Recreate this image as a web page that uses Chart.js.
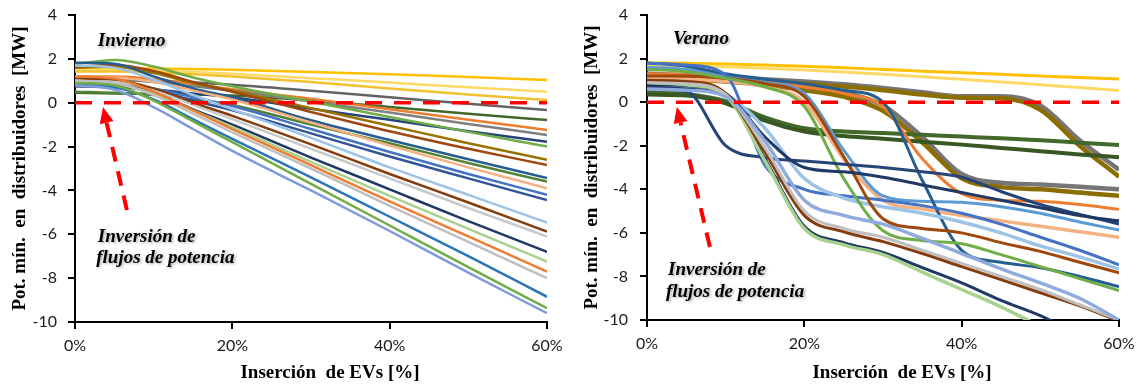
<!DOCTYPE html>
<html><head><meta charset="utf-8">
<script src="https://cdn.jsdelivr.net/npm/chart.js@4.4.1/dist/chart.umd.min.js"></script>
<style>
html,body{margin:0;padding:0;background:#fff;}
#wrap{position:relative;width:1142px;height:387px;overflow:hidden;}
.c{position:absolute;top:0;width:571px;height:387px;}
</style></head><body>
<div id="wrap">
<div class="c" style="left:0"><canvas id="cL" width="571" height="387"></canvas></div>
<div class="c" style="left:571px"><canvas id="cR" width="571" height="387"></canvas></div>
</div>
<script>
// ---------- DATA ----------
const xTickValues = [0, 20, 40, 60];           // % EV insertion
const yTickValues = [4, 2, 0, -2, -4, -6, -8, -10]; // MW
const zeroX = [0, 60];
const zeroY = [0, 0];

// Invierno (winter)
const xInv = [0, 5, 10, 15, 20, 30, 40, 50, 60];
const inv01 = [1.55, 1.57, 1.56, 1.54, 1.50, 1.40, 1.30, 1.17, 1.04];
const inv02 = [1.50, 1.50, 1.47, 1.40, 1.32, 1.12, 0.92, 0.70, 0.50];
const inv03 = [1.42, 1.42, 1.38, 1.30, 1.20, 0.95, 0.65, 0.38, 0.12];
const inv04 = [1.00, 1.02, 1.00, 0.92, 0.82, 0.55, 0.25, -0.05, -0.33];
const inv05 = [0.45, 0.42, 0.40, 0.38, 0.33, 0.10, -0.20, -0.50, -0.79];
const inv06 = [1.20, 1.20, 1.08, 0.85, 0.62, 0.18, -0.30, -0.78, -1.24];
const inv07 = [1.05, 1.05, 0.95, 0.75, 0.55, 0.05, -0.45, -0.97, -1.47];
const inv08 = [0.75, 0.70, 0.60, 0.42, 0.25, -0.28, -0.78, -1.30, -1.78];
const inv09 = [1.75, 1.95, 1.65, 1.15, 0.75, 0.05, -0.65, -1.33, -2.00];
const inv10 = [1.60, 1.65, 1.35, 0.90, 0.55, -0.25, -1.05, -1.85, -2.60];
const inv11 = [1.65, 1.72, 1.45, 0.95, 0.50, -0.42, -1.30, -2.10, -2.84];
const inv12 = [1.82, 1.78, 1.20, 0.65, 0.25, -0.80, -1.70, -2.58, -3.43];
const inv13 = [0.50, 0.45, 0.35, 0.15, -0.10, -1.00, -1.85, -2.75, -3.60];
const inv14 = [1.20, 1.15, 0.95, 0.55, 0.15, -0.90, -1.95, -2.95, -3.90];
const inv15 = [0.90, 0.85, 0.65, 0.25, -0.15, -1.20, -2.25, -3.25, -4.20];
const inv16 = [0.85, 0.80, 0.55, 0.10, -0.35, -1.40, -2.45, -3.45, -4.44];
const inv17 = [1.70, 1.60, 1.05, 0.35, -0.30, -1.60, -2.95, -4.20, -5.47];
const inv18 = [1.10, 1.05, 0.65, 0.00, -0.60, -1.90, -3.25, -4.55, -5.88];
const inv19 = [1.00, 0.95, 0.55, -0.10, -0.75, -2.10, -3.45, -4.80, -6.10];
const inv20 = [0.90, 0.85, 0.45, -0.30, -1.00, -2.50, -3.95, -5.40, -6.80];
const inv21 = [1.00, 0.90, 0.40, -0.35, -1.10, -2.70, -4.25, -5.75, -7.25];
const inv22 = [1.20, 1.10, 0.50, -0.35, -1.20, -2.85, -4.50, -6.10, -7.70];
const inv23 = [1.00, 0.90, 0.35, -0.50, -1.35, -3.00, -4.70, -6.35, -8.00];
const inv24 = [0.80, 0.70, 0.15, -0.75, -1.65, -3.40, -5.20, -7.00, -8.85];
const inv25 = [0.90, 0.80, 0.10, -0.85, -1.80, -3.70, -5.60, -7.50, -9.37];
const inv26 = [0.80, 0.60, -0.20, -1.20, -2.20, -4.00, -5.85, -7.75, -9.60];

// Verano (summer)
const xVer = [0, 5, 10, 15, 20, 25, 30, 35, 40, 45, 50, 55, 60];
const ver01 = [1.80, 1.78, 1.75, 1.70, 1.65, 1.58, 1.50, 1.42, 1.35, 1.28, 1.20, 1.13, 1.06];
const ver02 = [1.70, 1.68, 1.62, 1.55, 1.47, 1.38, 1.28, 1.17, 1.05, 0.93, 0.80, 0.67, 0.53];
const ver03 = [1.30, 1.25, 1.15, 1.05, 0.95, 0.82, 0.65, 0.45, 0.27, 0.27, -0.15, -1.75, -3.10];
const ver04 = [1.20, 1.15, 1.05, 0.95, 0.85, 0.72, 0.55, 0.35, 0.20, 0.18, -0.35, -2.00, -3.42];
const ver05 = [1.20, 1.15, 1.10, 0.95, 0.72, 0.45, -0.15, -1.60, -3.30, -3.70, -3.78, -3.88, -4.00];
const ver06 = [1.10, 1.05, 0.95, 0.80, 0.55, 0.25, -0.40, -1.85, -3.50, -3.90, -4.00, -4.15, -4.30];
const ver07 = [0.45, 0.38, 0.05, -0.70, -1.20, -1.35, -1.42, -1.50, -1.58, -1.66, -1.75, -1.86, -1.97];
const ver08 = [0.35, 0.30, -0.05, -0.85, -1.35, -1.55, -1.68, -1.82, -1.95, -2.10, -2.25, -2.40, -2.53];
const ver09 = [1.30, 1.25, 1.10, 0.95, 0.70, 0.40, -0.20, -2.60, -4.20, -4.50, -4.55, -4.70, -4.92];
const ver10 = [1.10, 1.05, 0.95, 0.70, 0.00, -2.60, -4.50, -4.90, -5.20, -5.45, -5.70, -5.95, -6.20];
const ver11 = [1.60, 1.50, 1.20, 0.90, 0.40, -2.20, -4.30, -4.55, -4.60, -4.80, -5.10, -5.50, -5.87];
const ver12 = [1.80, 1.65, 1.30, 1.05, 0.85, 0.55, 0.00, -3.60, -6.80, -7.35, -7.60, -8.00, -8.47];
const ver13 = [1.80, 1.70, 1.25, -2.90, -4.00, -4.30, -4.50, -4.75, -5.10, -5.60, -6.20, -6.80, -7.47];
const ver14 = [0.75, 0.65, 0.35, -1.20, -3.50, -4.40, -4.80, -5.10, -5.50, -6.00, -6.60, -7.10, -7.66];
const ver15 = [1.20, 1.20, 1.10, 0.85, 0.25, -2.50, -5.35, -5.80, -6.00, -6.45, -6.85, -7.35, -7.83];
const ver16 = [1.50, 1.40, 1.10, 0.70, -0.20, -3.50, -5.90, -6.35, -6.50, -7.00, -7.55, -8.10, -8.65];
const ver17 = [0.60, 0.50, -2.00, -2.55, -2.70, -2.85, -3.00, -3.20, -3.45, -4.10, -4.70, -5.15, -5.59];
const ver18 = [0.80, 0.75, 0.40, -1.60, -3.00, -3.20, -3.45, -3.80, -4.15, -4.50, -4.85, -5.20, -5.45];
const ver19 = [0.70, 0.60, 0.30, -2.60, -5.70, -6.45, -6.90, -7.60, -8.30, -9.10, -9.80, -10.70, -11.50];
const ver20 = [0.90, 0.80, 0.30, -2.70, -5.80, -6.55, -7.00, -7.80, -8.60, -9.40, -10.30, -11.20, -12.00];
const ver21 = [1.00, 0.95, 0.40, -2.30, -5.20, -5.95, -6.40, -6.95, -7.55, -8.15, -8.75, -9.35, -10.05];
const ver22 = [0.90, 0.85, 0.35, -2.10, -5.00, -5.80, -6.20, -6.80, -7.40, -8.00, -8.60, -9.30, -10.00];
const ver23 = [0.60, 0.55, 0.25, -1.80, -4.50, -5.20, -5.60, -6.25, -6.95, -7.65, -8.30, -9.00, -10.00];

// ---------- STYLES (separate from data) ----------
const invSeries = [
  [inv01,'#FFC000',2.5],[inv02,'#FFD966',2.5],[inv03,'#F2C12E',2.5],[inv04,'#636363',2.5],
  [inv05,'#43682B',2.5],[inv06,'#ED7D31',2.5],[inv07,'#7F7F7F',2.5],[inv08,'#264478',2.5],
  [inv09,'#70AD47',2.5],[inv10,'#997300',2.5],[inv11,'#9E480E',2.5],[inv12,'#255E91',2.5],
  [inv13,'#548235',2.5],[inv14,'#F4B183',2.5],[inv15,'#4472C4',2.5],[inv16,'#2F5597',2.5],
  [inv17,'#9DC3E6',2.5],[inv18,'#843C0C',2.5],[inv19,'#C9C9C9',2.5],[inv20,'#1F3864',2.5],
  [inv21,'#A9D18E',2.5],[inv22,'#ED7D31',2.5],[inv23,'#BFBFBF',2.5],[inv24,'#2E75B6',2.5],
  [inv25,'#70AD47',2.5],[inv26,'#7F9CD8',2.5]
];
const verSeries = [
  [ver01,'#FFC000',3],[ver02,'#FFD966',3],[ver03,'#767676',4.5],[ver04,'#8C6D00',4.5],
  [ver05,'#767676',4.5],[ver06,'#8C6D00',4.5],[ver07,'#43682B',4],[ver08,'#385723',4],
  [ver09,'#ED7D31',3],[ver10,'#F4B183',3.5],[ver11,'#5B9BD5',3],[ver12,'#255E91',3],
  [ver13,'#4472C4',3],[ver14,'#9DC3E6',3.5],[ver15,'#9E480E',3],[ver16,'#70AD47',3],
  [ver17,'#264478',3],[ver18,'#1F3864',3],[ver19,'#1F3864',3],[ver20,'#A9D18E',3.5],
  [ver21,'#843C0C',3],[ver22,'#BFBFBF',3],[ver23,'#8FAADC',3.5]
];

function pts(xs, ys){ return xs.map((x,i)=>({x:x, y:ys[i]})); }

function buildDatasets(xs, series){
  const ds = series.map((s,i)=>({
    data: pts(xs, s[0]), borderColor: s[1], borderWidth: s[2],
    pointRadius: 0, cubicInterpolationMode: 'monotone', fill: false, order: -i
  }));
  ds.push({data: pts(zeroX, zeroY), borderColor:'#FF0000', borderWidth:3.5,
    borderDash:[17,12], pointRadius:0, fill:false, order:-1000});
  return ds;
}

const annotPlugin = {
  id: 'annot',
  afterDatasetsDraw(chart, args, opts){
    const ctx = chart.ctx, xs = chart.scales.x, ys = chart.scales.y;
    const P = (x,y)=>[xs.getPixelForValue(x), ys.getPixelForValue(y)];
    const [x1,y1] = P(opts.arrow[0], opts.arrow[1]);
    const [x2,y2] = P(opts.arrow[2], opts.arrow[3]);
    const ang = Math.atan2(y2-y1, x2-x1);
    const headLen = 16, headW = 7;
    const bx = x2 - headLen*Math.cos(ang), by = y2 - headLen*Math.sin(ang);
    ctx.save();
    ctx.strokeStyle = '#FF0000'; ctx.fillStyle = '#FF0000';
    ctx.lineWidth = 4; ctx.setLineDash([15,10]);
    ctx.beginPath(); ctx.moveTo(x1,y1); ctx.lineTo(bx,by); ctx.stroke();
    ctx.setLineDash([]);
    ctx.beginPath();
    ctx.moveTo(x2,y2);
    ctx.lineTo(bx + headW*Math.sin(ang), by - headW*Math.cos(ang));
    ctx.lineTo(bx - headW*Math.sin(ang), by + headW*Math.cos(ang));
    ctx.closePath(); ctx.fill();
    ctx.restore();
    ctx.save();
    ctx.font = 'italic bold 19px "Liberation Serif", "Times New Roman", serif';
    ctx.fillStyle = '#000';
    ctx.textAlign = 'left'; ctx.textBaseline = 'middle';
    ctx.shadowColor = 'rgba(0,0,0,0.35)'; ctx.shadowBlur = 3;
    ctx.shadowOffsetX = 1.5; ctx.shadowOffsetY = 1.5;
    opts.texts.forEach(t=>{ const [tx,ty] = P(t[1], t[2]); ctx.fillText(t[0], tx, ty); });
    ctx.restore();
  }
};

function makeChart(id, xs, series, axisW, axisH, padRight, yPad, titlePad, annot){
  return new Chart(document.getElementById(id), {
    type: 'line',
    data: { datasets: buildDatasets(xs, series) },
    plugins: [annotPlugin],
    options: {
      responsive: false, animation: false, events: [],
      layout: { padding: { top: 15, right: padRight, left: 0, bottom: 0 } },
      plugins: { legend: {display:false}, tooltip: {enabled:false}, annot: annot },
      scales: {
        x: {
          type: 'linear', min: 0, max: 60,
          afterBuildTicks: s => { s.ticks = xTickValues.map(v=>({value:v})); },
          afterFit: s => { s.height = axisH; s.paddingLeft = 0; s.paddingRight = 0; },
          grid: { display: true, drawOnChartArea: false, drawTicks: true, tickLength: 7, color: '#000', lineWidth: 2 },
          border: { display: true, color: '#000', width: 2 },
          ticks: { callback: v => v + '%', color: '#1a1a1a', padding: 7, maxRotation: 0,
                   font: { family: 'Lato, "Open Sans", sans-serif', size: 16 } },
          title: { display: true, text: '\u2003\u2003Inserción  de EVs [%]', color: '#000',
                   padding: { top: 4, bottom: 3 },
                   font: { family: '"Liberation Serif", "Times New Roman", serif', size: 19, weight: 'bold' } }
        },
        y: {
          type: 'linear', min: -10, max: 4,
          afterBuildTicks: s => { s.ticks = yTickValues.map(v=>({value:v})); },
          afterFit: s => { s.width = axisW; s.paddingTop = 0; s.paddingBottom = 0; },
          grid: { display: true, drawOnChartArea: false, drawTicks: true, tickLength: 7, color: '#000', lineWidth: 2 },
          border: { display: true, color: '#000', width: 2 },
          ticks: { color: '#1a1a1a', padding: yPad,
                   font: { family: 'Lato, "Open Sans", sans-serif', size: 16 } },
          title: { display: true, text: 'Pot. mín.  en  distribuidores  [MW]', color: '#000',
                   padding: { top: titlePad, bottom: 2 },
                   font: { family: '"Liberation Serif", "Times New Roman", serif', size: 19, weight: 'bold' } }
        }
      }
    }
  });
}

makeChart('cL', xInv, invSeries, 75, 65, 24, 11, 9, {
  arrow: [6.6, -4.9, 3.56, -0.2],
  texts: [['Invierno', 2.9, 2.81], ['Inversión de', 2.9, -6.12], ['flujos de potencia', 2.7, -7.08]]
});
makeChart('cR', xVer, verSeries, 76, 67, 23, 12, 10, {
  arrow: [8.0, -6.65, 3.8, -0.22],
  texts: [['Verano', 3.3, 2.9], ['Inversión de', 2.67, -7.7], ['flujos de potencia', 2.4, -8.71]]
});
</script>
</body></html>
